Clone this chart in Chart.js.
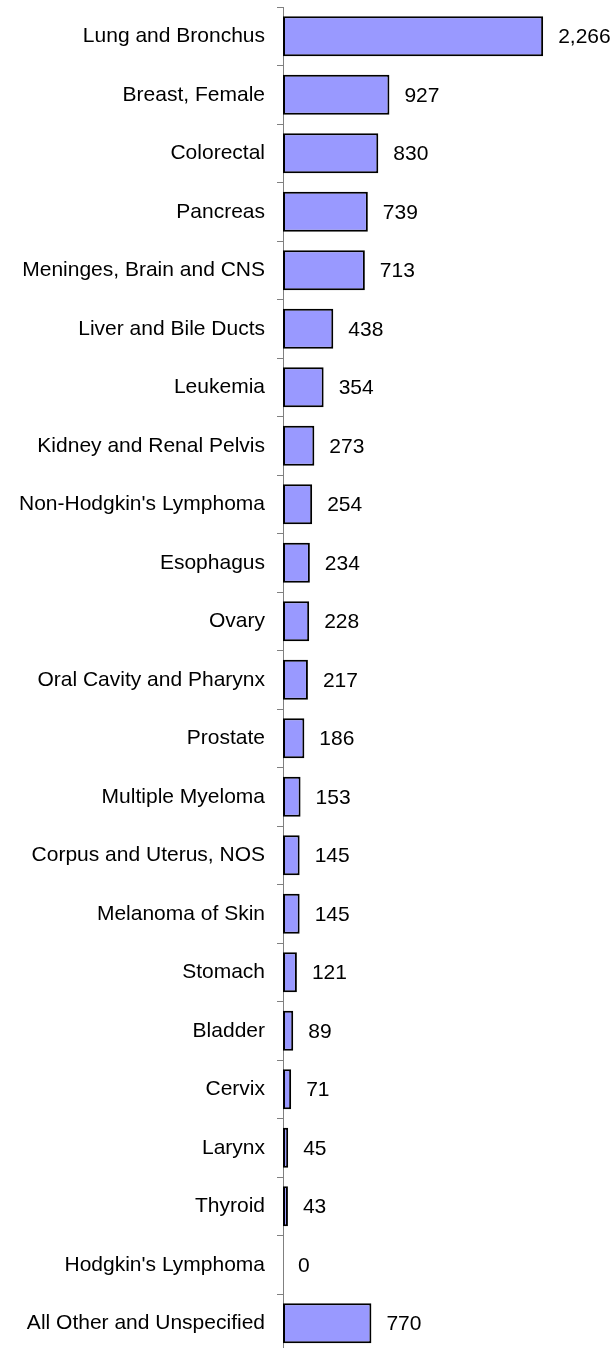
<!DOCTYPE html>
<html>
<head>
<meta charset="utf-8">
<script src="https://cdn.jsdelivr.net/npm/chart.js@4/dist/chart.umd.min.js"></script>
<style>
  html, body { margin: 0; padding: 0; background: #fff; overflow: hidden; }
  .chart-wrapper { position: relative; width: 613px; height: 1360px; }
</style>
</head>
<body>
<div class="chart-wrapper">
  <canvas id="cancerChart"></canvas>
</div>
<script>
const sites = [
  'Lung and Bronchus',
  'Breast, Female',
  'Colorectal',
  'Pancreas',
  'Meninges, Brain and CNS',
  'Liver and Bile Ducts',
  'Leukemia',
  'Kidney and Renal Pelvis',
  "Non-Hodgkin's Lymphoma",
  'Esophagus',
  'Ovary',
  'Oral Cavity and Pharynx',
  'Prostate',
  'Multiple Myeloma',
  'Corpus and Uterus, NOS',
  'Melanoma of Skin',
  'Stomach',
  'Bladder',
  'Cervix',
  'Larynx',
  'Thyroid',
  "Hodgkin's Lymphoma",
  'All Other and Unspecified',
];
const deaths = [2266, 927, 830, 739, 713, 438, 354, 273, 254, 234, 228, 217, 186, 153, 145, 145, 121, 89, 71, 45, 43, 0, 770];

const font = { family: '"Liberation Sans", Arial, sans-serif', size: 21 };

// draws the value next to each bar, like the spreadsheet data labels
const valueLabels = {
  id: 'valueLabels',
  afterDatasetsDraw(chart) {
    const { ctx } = chart;
    const xScale = chart.scales.x;
    const meta = chart.getDatasetMeta(0);

    ctx.save();
    ctx.font = `${font.size}px ${font.family}`;
    ctx.fillStyle = '#000';
    ctx.textAlign = 'left';
    ctx.textBaseline = 'middle';

    meta.data.forEach((bar, i) => {
      const value = deaths[i];
      const x = xScale.getPixelForValue(value) + 15;
      ctx.fillText(value.toLocaleString('en-US'), x, bar.y + 1);
    });

    ctx.restore();
  },
};

const canvas = document.getElementById('cancerChart').getContext('2d');

const chart = new Chart(canvas, {
  type: 'bar',
  data: {
    labels: sites,
    datasets: [{
      data: deaths,
      backgroundColor: '#9999FF',
      borderColor: '#000',
      borderWidth: (c) => (c.raw === 0 ? 0 : 2),
      borderSkipped: false,
      barPercentage: 0.68,
      categoryPercentage: 1,
    }],
  },
  options: {
    indexAxis: 'y',
    responsive: true,
    maintainAspectRatio: false,
    animation: false,
    layout: {
      padding: { left: 0, right: 43, top: 7, bottom: 7.5 },
    },
    plugins: {
      legend: { display: false },
      tooltip: { enabled: false },
    },
    scales: {
      x: {
        display: false,
        min: 0,
        max: 2500,
      },
      y: {
        afterFit(scale) {
          scale.width = 283;
          scale.paddingTop = 0;
          scale.paddingBottom = 0;
        },
        grid: {
          offset: true,
          drawOnChartArea: false,
          tickLength: 6,
          color: '#808080',
        },
        border: { display: true, color: '#808080', width: 1 },
        ticks: {
          color: '#000',
          padding: 12,
          autoSkip: false,
          font,
        },
      },
    },
  },
  plugins: [valueLabels],
});
</script>
</body>
</html>
